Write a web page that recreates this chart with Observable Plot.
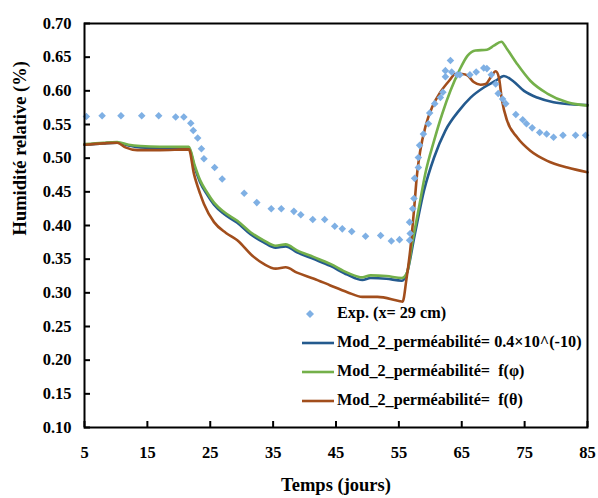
<!DOCTYPE html>
<html>
<head>
<meta charset="utf-8">
<script src="https://cdn.jsdelivr.net/npm/d3@7"></script>
<script src="https://cdn.jsdelivr.net/npm/@observablehq/plot@0.6"></script>
<style>
  html, body { margin: 0; padding: 0; background: #fff; }
  #wrap { position: relative; width: 598px; height: 498px; }
  #legend { position: absolute; left: 300px; top: 299px; font-family: "Liberation Serif", "Times New Roman", serif; font-weight: bold; font-size: 16.2px; color: #000; }
  #legend .row { display: flex; align-items: center; height: 29px; white-space: pre; }
  #legend svg { margin-right: 3px; }
</style>
</head>
<body>
<div id="wrap"><div id="chart"></div><div id="legend"></div></div>
<script>
// ---- data ----
const xTicks = [5, 15, 25, 35, 45, 55, 65, 75, 85];
const yTicks = [0.10, 0.15, 0.20, 0.25, 0.30, 0.35, 0.40, 0.45, 0.50, 0.55, 0.60, 0.65, 0.70];
const xTitle = "Temps (jours)";
const yTitle = "Humidité relative (%)";

const expDays = [5.3, 7.8, 10.8, 14.1, 16.8, 19.5, 20.8, 21.9, 22.3, 23.0, 23.6, 24.0, 25.7, 26.9, 30.4, 32.4, 34.7, 36.3, 38.3, 39.4, 41.3, 43.2, 44.8, 46.0, 47.5, 49.7, 52.1, 53.8, 55.1, 56.7, 56.8, 56.7, 57.2, 57.4, 57.5, 58.1, 58.1, 58.3, 58.9, 59.7, 59.9, 60.7, 61.6, 62.0, 62.4, 62.4, 63.2, 63.4, 64.3, 64.7, 66.3, 67.3, 68.5, 69.0, 69.7, 70.4, 70.8, 71.5, 72.0, 73.6, 74.7, 75.3, 76.2, 77.4, 78.5, 79.6, 81.1, 83.1, 84.7];
const expValues = [0.562, 0.563, 0.563, 0.563, 0.563, 0.561, 0.561, 0.552, 0.541, 0.530, 0.514, 0.499, 0.486, 0.469, 0.448, 0.434, 0.425, 0.425, 0.421, 0.416, 0.409, 0.409, 0.399, 0.395, 0.391, 0.384, 0.385, 0.377, 0.379, 0.378, 0.388, 0.405, 0.425, 0.440, 0.470, 0.486, 0.501, 0.519, 0.536, 0.551, 0.567, 0.581, 0.590, 0.598, 0.621, 0.630, 0.645, 0.628, 0.624, 0.624, 0.624, 0.628, 0.634, 0.633, 0.624, 0.610, 0.596, 0.588, 0.581, 0.565, 0.557, 0.551, 0.545, 0.538, 0.536, 0.531, 0.534, 0.534, 0.534];

const blueDays = [5, 8, 10.2, 12, 13.9, 17, 21.6, 22.5, 23.4, 24.5, 25.6, 27.2, 29.3, 31.4, 33.5, 35.4, 37.0, 38.8, 41.5, 44.1, 46.8, 49.2, 50.5, 53, 55.5, 56.3, 57.5, 59.0, 60.6, 62.4, 64.6, 66.4, 68.5, 70.4, 71.7, 73.1, 74.9, 77.0, 79.6, 82.3, 85];
const blueValues = [0.520, 0.522, 0.523, 0.519, 0.516, 0.515, 0.515, 0.487, 0.464, 0.446, 0.431, 0.417, 0.404, 0.387, 0.375, 0.367, 0.369, 0.360, 0.350, 0.340, 0.327, 0.319, 0.322, 0.321, 0.318, 0.330, 0.385, 0.452, 0.501, 0.541, 0.571, 0.590, 0.605, 0.615, 0.622, 0.615, 0.600, 0.590, 0.583, 0.580, 0.579];

const greenDays = [5, 8, 10.2, 12, 13.9, 17, 21.6, 22.5, 23.4, 24.5, 25.6, 27.2, 29.3, 31.4, 33.5, 35.4, 37.0, 38.8, 41.5, 44.1, 46.8, 49.2, 50.5, 53, 55.5, 56.3, 57.2, 58.2, 59.2, 60.6, 61.9, 63.2, 64.6, 65.9, 67.2, 69.0, 70.1, 71.3, 72.2, 73.8, 75.9, 78.6, 81.8, 85];
const greenValues = [0.521, 0.523, 0.524, 0.520, 0.518, 0.517, 0.517, 0.490, 0.467, 0.449, 0.434, 0.420, 0.407, 0.390, 0.378, 0.370, 0.372, 0.363, 0.353, 0.343, 0.330, 0.323, 0.326, 0.325, 0.322, 0.330, 0.378, 0.427, 0.477, 0.526, 0.566, 0.600, 0.630, 0.652, 0.660, 0.661, 0.667, 0.673, 0.662, 0.640, 0.615, 0.596, 0.583, 0.578];

const brownDays = [5, 8, 10.2, 11.5, 13.4, 17, 21.6, 22.4, 23.4, 24.0, 25.6, 27.5, 29.3, 31.7, 33.5, 35.4, 37.0, 38.8, 41.5, 44.1, 46.8, 49.2, 51.6, 55.0, 55.6, 56.2, 56.8, 57.4, 57.9, 58.4, 59.2, 60.3, 61.6, 63.0, 64.0, 65.1, 65.9, 66.9, 68.0, 68.8, 69.6, 70.4, 70.9, 71.4, 72.2, 73.8, 75.9, 78.6, 81.8, 85];
const brownValues = [0.520, 0.522, 0.523, 0.516, 0.512, 0.512, 0.513, 0.477, 0.447, 0.432, 0.405, 0.389, 0.378, 0.355, 0.343, 0.336, 0.338, 0.330, 0.321, 0.311, 0.301, 0.294, 0.294, 0.288, 0.287, 0.320, 0.363, 0.422, 0.477, 0.511, 0.546, 0.576, 0.598, 0.615, 0.625, 0.625, 0.623, 0.613, 0.609, 0.610, 0.620, 0.629, 0.620, 0.586, 0.556, 0.531, 0.511, 0.496, 0.486, 0.479];

const seriesNames = ["Exp. (x= 29 cm)", "Mod_2_perméabilité= 0.4×10^(-10)", "Mod_2_perméabilité=  f(φ)", "Mod_2_perméabilité=  f(θ)"];
const seriesColors = ["#7fb0e4", "#245a8e", "#74b04a", "#a24e1c"];

// ---- tables ----
const zip = (xs, ys) => xs.map((d, i) => ({day: d, value: ys[i]}));
const exp = zip(expDays, expValues);
const blue = zip(blueDays, blueValues);
const green = zip(greenDays, greenValues);
const brown = zip(brownDays, brownValues);

const font = "'Liberation Serif', 'Times New Roman', serif";
const W = 598, H = 498, mL = 84, mR = 11, mT = 23, mB = 71;
const tickLen = 6;

const chart = Plot.plot({
  width: W,
  height: H,
  marginLeft: mL,
  marginRight: mR,
  marginTop: mT,
  marginBottom: mB,
  style: {fontFamily: font, fontWeight: "bold", fontSize: "16.5px", color: "#000", background: "#fff"},
  x: {domain: [5, 85]},
  y: {domain: [0.1, 0.7]},
  marks: [
    // inward tick marks
    Plot.tickY(yTicks, {y: d => d, stroke: "#000", strokeWidth: 2, insetRight: (W - mL - mR) - tickLen}),
    Plot.tickX(xTicks, {x: d => d, stroke: "#000", strokeWidth: 2, insetTop: (H - mT - mB) - tickLen}),
    Plot.axisY({ticks: yTicks, tickSize: 0, tickPadding: 13, tickFormat: d3.format(".2f"), fontSize: 16.5, label: null}),
    Plot.axisX({ticks: xTicks, tickSize: 0, tickPadding: 19, tickFormat: d => String(d), fontSize: 16.5, label: null}),
    Plot.text([yTitle], {text: d => d, frameAnchor: "left", rotate: -90, dx: -64, dy: 10, fontSize: 18.5, fontWeight: "bold"}),
    Plot.text([xTitle], {text: d => d, frameAnchor: "bottom", dy: 63, fontSize: 18.5, fontWeight: "bold"}),
    Plot.line(blue, {x: "day", y: "value", stroke: seriesColors[1], strokeWidth: 2.6, curve: "monotone-x"}),
    Plot.line(green, {x: "day", y: "value", stroke: seriesColors[2], strokeWidth: 2.6, curve: "monotone-x"}),
    Plot.line(brown, {x: "day", y: "value", stroke: seriesColors[3], strokeWidth: 2.6, curve: "monotone-x"}),
    Plot.dot(exp, {x: "day", y: "value", symbol: "diamond2", r: 3.4, fill: seriesColors[0], stroke: "none"}),
    Plot.frame({stroke: "#000", strokeWidth: 2})
  ]
});
document.getElementById("chart").appendChild(chart);

// ---- legend (inside plot area) ----
const legend = document.getElementById("legend");
seriesNames.forEach((name, i) => {
  const row = document.createElement("div");
  row.className = "row";
  const sw = i === 0
    ? `<svg width="34" height="12"><path d="M10,2 L14,6 L10,10 L6,6 Z" fill="${seriesColors[0]}"/></svg>`
    : `<svg width="34" height="12"><line x1="2" y1="6" x2="34" y2="6" stroke="${seriesColors[i]}" stroke-width="2.6"/></svg>`;
  row.innerHTML = sw + `<span>${name}</span>`;
  legend.appendChild(row);
});
</script>
</body>
</html>
